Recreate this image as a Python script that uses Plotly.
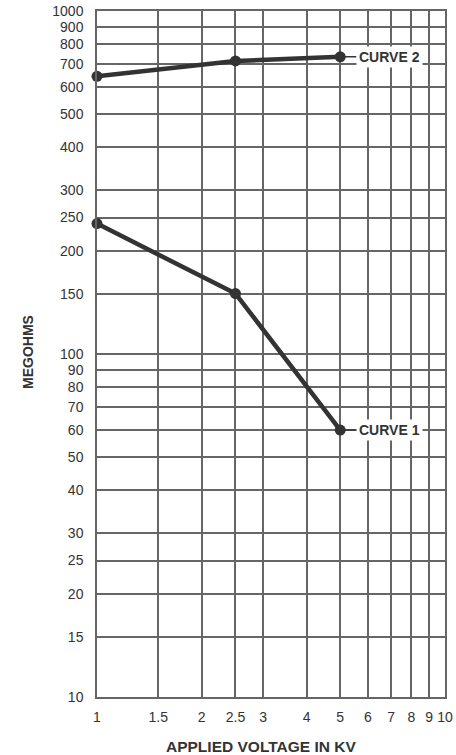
import math
import plotly.graph_objects as go

# Data
voltage_kv = [1, 2.5, 5]
curve1_megohms = [240, 150, 60]
curve2_megohms = [645, 715, 735]

x_ticks = [1, 1.5, 2, 2.5, 3, 4, 5, 6, 7, 8, 9, 10]
y_ticks = [10, 15, 20, 25, 30, 40, 50, 60, 70, 80, 90, 100,
           150, 200, 250, 300, 400, 500, 600, 700, 800, 900, 1000]

INK = "#333333"
GRID = "#666666"
FONT = "Liberation Sans, Arial, sans-serif"

fig = go.Figure()
for name, vals in [("CURVE 1", curve1_megohms), ("CURVE 2", curve2_megohms)]:
    fig.add_trace(go.Scatter(
        x=voltage_kv, y=vals, mode="lines+markers", name=name,
        line=dict(color=INK, width=4.5),
        marker=dict(color=INK, size=11),
        cliponaxis=False, showlegend=False,
    ))
    # log axes: annotation positions are given in log10 units
    fig.add_annotation(
        x=math.log10(voltage_kv[-1]), y=math.log10(vals[-1]),
        xref="x", yref="y",
        text="<b>%s</b>" % name, showarrow=True, arrowhead=0,
        arrowwidth=1.5, arrowcolor=INK, ax=49, ay=0,
        bgcolor="white", borderpad=2,
        font=dict(family=FONT, size=14, color=INK),
    )

axis_common = dict(
    type="log", showgrid=True, gridcolor=GRID, gridwidth=1.5,
    showline=True, linecolor=GRID, linewidth=1.5, mirror=True,
    zeroline=False, automargin=False,
    tickfont=dict(family=FONT, size=14, color=INK),
)

fig.update_xaxes(
    **axis_common, range=[0, 1], tickmode="array",
    tickvals=x_ticks, ticktext=[str(v) for v in x_ticks],
    ticklabelstandoff=6,
)
fig.update_yaxes(
    **axis_common, range=[1, 3], tickmode="array",
    tickvals=y_ticks, ticktext=[str(v) for v in y_ticks],
    ticklabelstandoff=9,
)

# axis titles placed as paper annotations
fig.add_annotation(
    xref="paper", yref="paper", x=0.47, y=0, yshift=-49, yanchor="middle",
    text="<b>APPLIED VOLTAGE IN KV</b>", showarrow=False,
    font=dict(family=FONT, size=15.5, color=INK),
)
fig.add_annotation(
    xref="paper", yref="paper", x=0, xshift=-69, y=0.503, xanchor="center",
    text="<b>MEGOHMS</b>", showarrow=False, textangle=-90,
    font=dict(family=FONT, size=14, color=INK),
)

fig.update_layout(
    width=456, height=755,
    margin=dict(l=97, r=11, t=11, b=58),
    plot_bgcolor="white", paper_bgcolor="white",
)

# drop the browser's default body margin so the figure sits at the page corner
fig.write_html(
    "out.html",
    config={"displayModeBar": False},
    post_script="document.body.style.margin = '0';",
)
